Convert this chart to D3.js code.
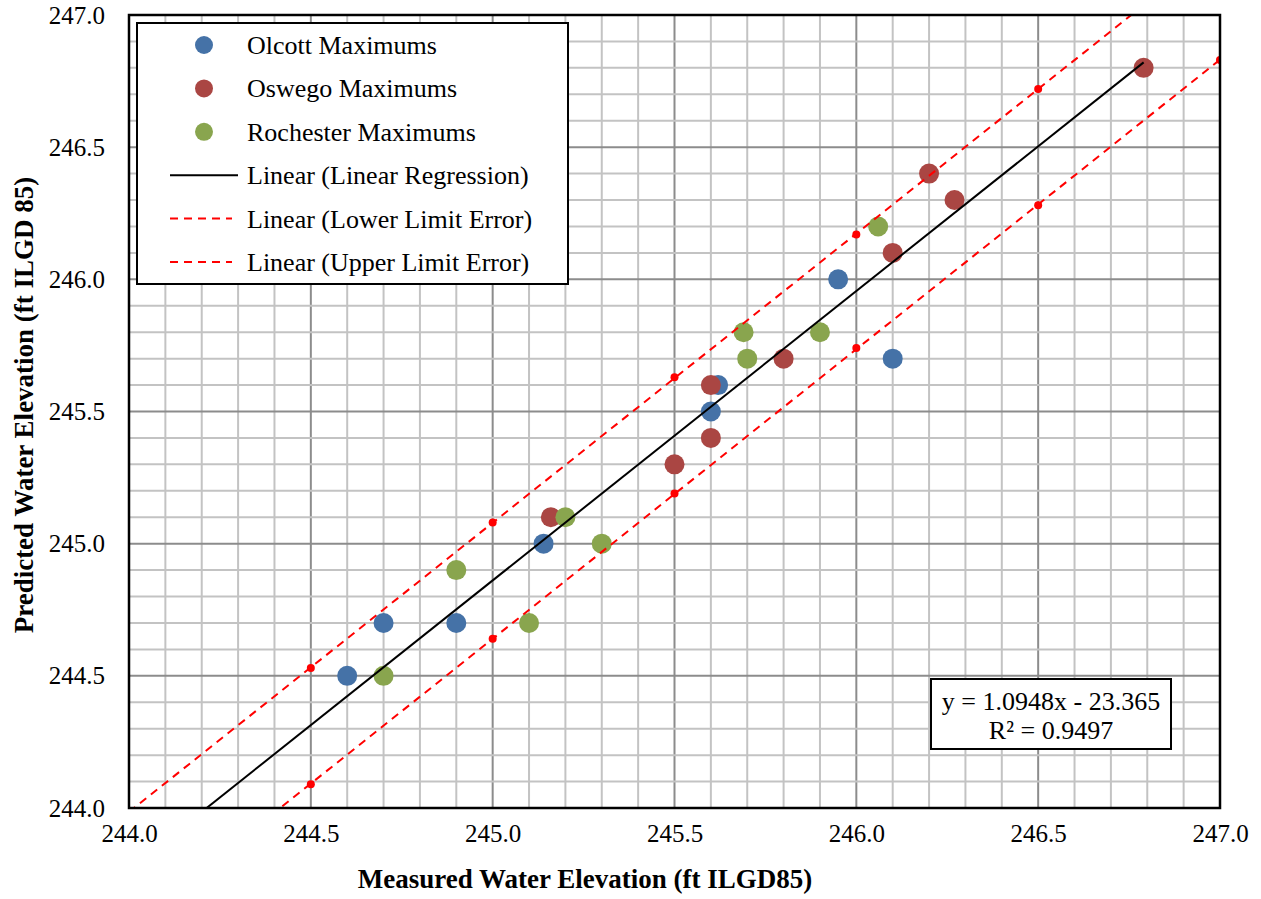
<!DOCTYPE html>
<html>
<head>
<meta charset="utf-8">
<script src="https://cdn.jsdelivr.net/npm/d3@7"></script>
<style>
  body { margin: 0; background: #fff; }
  svg text { font-family: "Liberation Serif", "Times New Roman", serif; fill: #000; }
</style>
</head>
<body>
<div id="chart"></div>
<script>
// measured (x) vs predicted (y) water elevation
const olcott = [[244.60,244.50],[244.70,244.70],[244.90,244.70],[245.14,245.00],[245.60,245.50],[245.62,245.60],[245.95,246.00],[246.10,245.70]]
const oswego = [[245.16,245.10],[245.50,245.30],[245.60,245.40],[245.60,245.60],[245.80,245.70],[246.10,246.10],[246.20,246.40],[246.27,246.30],[246.79,246.80]]
const rochester = [[244.70,244.50],[244.90,244.90],[245.10,244.70],[245.20,245.10],[245.30,245.00],[245.69,245.80],[245.70,245.70],[245.90,245.80],[246.06,246.20]]

// error limit series (only the visible points)
const upperLimit = [[244.5,244.53],[245.0,245.08],[245.5,245.63],[246.0,246.17],[246.5,246.72]]
const lowerLimit = [[244.5,244.09],[245.0,244.64],[245.5,245.19],[246.0,245.74],[246.5,246.28],[247.0,246.83]]

// regression from the equation label
const regSlope = 1.0948
const regIntercept = -23.365
const regR2 = 0.9497

const tickVals = [244.0, 244.5, 245.0, 245.5, 246.0, 246.5, 247.0]
const legendNames = ['Olcott Maximums', 'Oswego Maximums', 'Rochester Maximums',
  'Linear (Linear Regression)', 'Linear (Lower Limit Error)', 'Linear (Upper Limit Error)']

const W = 1261, H = 899
const pLeft = 129, pRight = 1220, pTop = 15, pBottom = 808

const x = d3.scaleLinear().domain([244, 247]).range([pLeft, pRight])
const y = d3.scaleLinear().domain([244, 247]).range([pBottom, pTop])

const colors = { olcott: '#4572A7', oswego: '#AA4643', rochester: '#89A54E' }

const svg = d3.select('#chart').append('svg')
  .attr('width', W).attr('height', H)

svg.append('defs').append('clipPath').attr('id', 'plotclip')
  .append('rect').attr('x', pLeft).attr('y', pTop).attr('width', pRight - pLeft).attr('height', pBottom - pTop)

//gridlines every 0.1, darker on the half units
const gridVals = d3.range(0, 31).map(i => 244 + i * 0.1)
const grid = svg.append('g')
grid.selectAll('.vgrid').data(gridVals).enter().append('line')
  .attr('x1', d => x(d)).attr('x2', d => x(d))
  .attr('y1', pTop).attr('y2', pBottom)
  .attr('stroke', (d, i) => i % 5 === 0 ? '#8c8c8c' : '#c3c3c3')
  .attr('stroke-width', 2)
grid.selectAll('.hgrid').data(gridVals).enter().append('line')
  .attr('y1', d => y(d)).attr('y2', d => y(d))
  .attr('x1', pLeft).attr('x2', pRight)
  .attr('stroke', (d, i) => i % 5 === 0 ? '#8c8c8c' : '#c3c3c3')
  .attr('stroke-width', 2)

// axes: labels only
const xAxis = svg.append('g').attr('transform', `translate(0,${pBottom})`)
  .call(d3.axisBottom(x).tickValues(tickVals).tickFormat(d3.format('.1f')).tickSize(0).tickPadding(16))
const yAxis = svg.append('g').attr('transform', `translate(${pLeft},0)`)
  .call(d3.axisLeft(y).tickValues(tickVals).tickFormat(d3.format('.1f')).tickSize(0).tickPadding(24))
;[xAxis, yAxis].forEach(a => {
  a.select('.domain').remove()
  a.selectAll('text').style('font-size', '25px').style('font-family', '"Liberation Serif", serif')
})

const plot = svg.append('g').attr('clip-path', 'url(#plotclip)')

// points
const series = [['olcott', olcott], ['oswego', oswego], ['rochester', rochester]]
series.forEach(([key, pts]) => {
  plot.selectAll('.pt-' + key).data(pts).enter().append('circle')
    .attr('cx', d => x(d[0])).attr('cy', d => y(d[1]))
    .attr('r', 10)
    .attr('fill', colors[key])
})

// linear fit for the limit series
function fit(pts) {
  const mx = d3.mean(pts, d => d[0]), my = d3.mean(pts, d => d[1])
  const sxy = d3.sum(pts, d => (d[0] - mx) * (d[1] - my))
  const sxx = d3.sum(pts, d => (d[0] - mx) * (d[0] - mx))
  const m = sxy / sxx
  return { m: m, b: my - m * mx }
}
const line = d3.line().x(d => x(d[0])).y(d => y(d[1]))

;[upperLimit, lowerLimit].forEach(pts => {
  const f = fit(pts)
  plot.append('path')
    .attr('d', line(x.domain().map(v => [v, f.m * v + f.b])))
    .attr('fill', 'none').attr('stroke', '#ff0000').attr('stroke-width', 2)
    .attr('stroke-dasharray', '8,6')
  plot.selectAll(null).data(pts).enter().append('circle')
    .attr('cx', d => x(d[0])).attr('cy', d => y(d[1]))
    .attr('r', 4).attr('fill', '#ff0000')
})

const regEnd = d3.max(oswego.concat(olcott, rochester), d => d[0])
plot.append('path')
  .attr('d', line([244, regEnd].map(v => [v, regSlope * v + regIntercept])))
  .attr('fill', 'none').attr('stroke', '#000').attr('stroke-width', 2)

// plot border
svg.append('rect').attr('x', pLeft).attr('y', pTop).attr('width', pRight - pLeft).attr('height', pBottom - pTop)
  .attr('fill', 'none').attr('stroke', '#000').attr('stroke-width', 2.5)

// legend
const lg = svg.append('g')
lg.append('rect').attr('x', 137).attr('y', 23).attr('width', 431).attr('height', 261)
  .attr('fill', '#fff').attr('stroke', '#000').attr('stroke-width', 2)
const rowY = i => 45 + i * 43.4
legendNames.forEach((name, i) => {
  const cy = rowY(i)
  if (i < 3) {
    lg.append('circle').attr('cx', 204).attr('cy', cy).attr('r', 9)
      .attr('fill', colors[series[i][0]])
  } else {
    lg.append('line').attr('x1', 170).attr('x2', i === 3 ? 238 : 232).attr('y1', cy).attr('y2', cy)
      .attr('stroke', i === 3 ? '#000' : '#ff0000').attr('stroke-width', 2)
      .attr('stroke-dasharray', i === 3 ? null : '8,6')
  }
  lg.append('text').attr('x', 247).attr('y', cy + 9).style('font-size', '26px').text(name)
})

// equation box
const eq = svg.append('g')
eq.append('rect').attr('x', 931).attr('y', 679).attr('width', 240).attr('height', 70)
  .attr('fill', '#fff').attr('stroke', '#000').attr('stroke-width', 2)
eq.append('text').attr('x', 1051).attr('y', 710).attr('text-anchor', 'middle').style('font-size', '26px')
  .text(`y = ${regSlope}x - ${Math.abs(regIntercept)}`)
eq.append('text').attr('x', 1051).attr('y', 739).attr('text-anchor', 'middle').style('font-size', '26px')
  .text(`R² = ${regR2}`)

// axis titles
svg.append('text').attr('x', 585).attr('y', 888).attr('text-anchor', 'middle')
  .style('font-size', '27px').style('font-weight', 'bold')
  .text('Measured Water Elevation (ft ILGD85)')
svg.append('text').attr('transform', 'translate(33,405) rotate(-90)').attr('text-anchor', 'middle')
  .style('font-size', '27px').style('font-weight', 'bold')
  .text('Predicted Water Elevation (ft ILGD 85)')
</script>
</body>
</html>
